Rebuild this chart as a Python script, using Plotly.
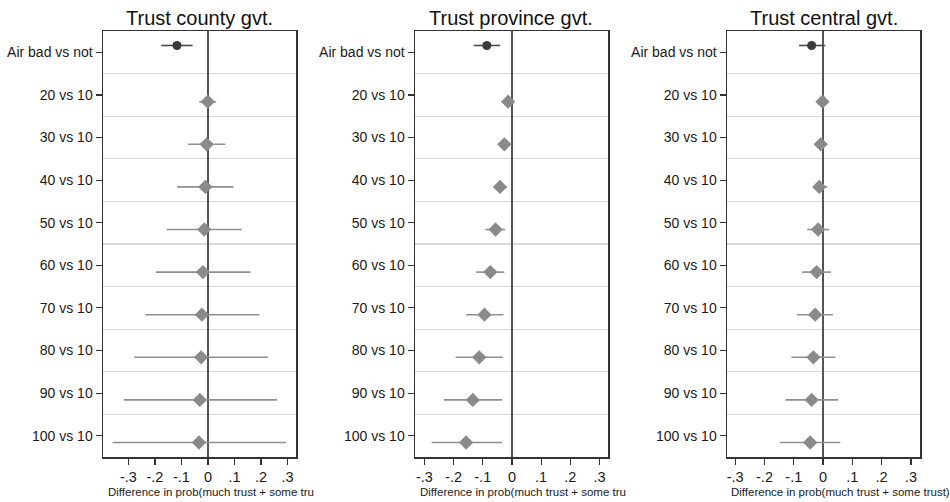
import plotly.graph_objects as go

categories = ["Air bad vs not", "20 vs 10", "30 vs 10", "40 vs 10", "50 vs 10",
              "60 vs 10", "70 vs 10", "80 vs 10", "90 vs 10", "100 vs 10"]

panel_titles = ["Trust county gvt.", "Trust province gvt.", "Trust central gvt."]
x_titles = ["Difference in prob(much trust + some tru",
            "Difference in prob(much trust + some tru",
            "Difference in prob(much trust + some trust)"]

# Trust county gvt.
county_est = [-0.117, -0.001, -0.005, -0.010, -0.014, -0.019, -0.023, -0.026, -0.031, -0.034]
county_lo = [-0.176, -0.033, -0.075, -0.116, -0.156, -0.196, -0.236, -0.278, -0.318, -0.360]
county_hi = [-0.058, 0.031, 0.065, 0.096, 0.127, 0.160, 0.194, 0.226, 0.260, 0.294]

# Trust province gvt.
province_est = [-0.086, -0.013, -0.026, -0.041, -0.056, -0.074, -0.094, -0.112, -0.134, -0.157]
province_lo = [-0.131, -0.023, -0.040, -0.063, -0.091, -0.122, -0.157, -0.193, -0.233, -0.275]
province_hi = [-0.041, -0.002, -0.013, -0.017, -0.023, -0.026, -0.029, -0.031, -0.033, -0.034]

# Trust central gvt.
central_est = [-0.039, -0.002, -0.008, -0.013, -0.017, -0.022, -0.027, -0.033, -0.039, -0.044]
central_lo = [-0.082, -0.009, -0.017, -0.032, -0.054, -0.072, -0.089, -0.108, -0.128, -0.147]
central_hi = [0.008, 0.006, 0.002, 0.015, 0.021, 0.027, 0.034, 0.042, 0.051, 0.059]

x_ticks = [-0.3, -0.2, -0.1, 0, 0.1, 0.2, 0.3]
x_tick_labels = ["-.3", "-.2", "-.1", "0", ".1", ".2", ".3"]

panels = [(county_est, county_lo, county_hi),
          (province_est, province_lo, province_hi),
          (central_est, central_lo, central_hi)]
x_ranges = [[-0.396, 0.332], [-0.332, 0.329], [-0.328, 0.331]]

W, H = 950, 502


def fx(p):
    return p / W


def fy(p):
    return 1 - p / H


px_domains = [(103, 296), (415, 608), (727, 920)]
y_dom = [fy(457), fy(31)]
title_left_px = [106, 418, 729]

FONT = "Liberation Sans, Arial, sans-serif"
DOT = "#3a3a3a"
DOT_LINE = "#4a4a4a"
DIA = "#8a8a8a"
DIA_LINE = "#8e8e8e"
OFFSET = 0.16

fig = go.Figure()
pos = list(range(1, len(categories) + 1))

for i, (est, lo, hi) in enumerate(panels):
    xa = "x" if i == 0 else f"x{i+1}"
    ya = "y" if i == 0 else f"y{i+1}"
    # first category: air quality (dark dot), shifted up
    fig.add_trace(go.Scatter(
        x=est[:1], y=[p - OFFSET for p in pos[:1]], mode="markers",
        marker=dict(symbol="circle", size=9, color=DOT),
        error_x=dict(type="data", symmetric=False,
                     array=[h - e for h, e in zip(hi[:1], est[:1])],
                     arrayminus=[e - l for e, l in zip(est[:1], lo[:1])],
                     width=0, thickness=1.6, color=DOT_LINE),
        xaxis=xa, yaxis=ya, showlegend=False))
    # remaining categories: diamonds, shifted down
    fig.add_trace(go.Scatter(
        x=est[1:], y=[p + OFFSET for p in pos[1:]], mode="markers",
        marker=dict(symbol="diamond", size=11, color=DIA),
        error_x=dict(type="data", symmetric=False,
                     array=[h - e for h, e in zip(hi[1:], est[1:])],
                     arrayminus=[e - l for e, l in zip(est[1:], lo[1:])],
                     width=0, thickness=1.6, color=DIA_LINE),
        xaxis=xa, yaxis=ya, showlegend=False))

layout = dict(
    width=W, height=H,
    margin=dict(l=0, r=0, t=0, b=0),
    paper_bgcolor="white", plot_bgcolor="white",
    font=dict(family=FONT, color="#1a1a1a", size=14),
)

annotations = []
for i in range(3):
    sfx = "" if i == 0 else str(i + 1)
    l, r = px_domains[i]
    layout["xaxis" + sfx] = dict(
        domain=[fx(l), fx(r)], range=x_ranges[i], anchor="y" + sfx,
        tickvals=x_ticks, ticktext=x_tick_labels, ticks="outside", ticklen=6,
        tickcolor="#333", tickwidth=1.2, showgrid=False,
        zeroline=True, zerolinecolor="#555", zerolinewidth=1.6,
        showline=True, mirror=True, linecolor="#333", linewidth=1.5,
        tickfont=dict(size=14.5, family=FONT, color="#1a1a1a"), fixedrange=True,
    )
    layout["yaxis" + sfx] = dict(
        domain=y_dom, range=[len(categories) + 0.5, 0.5], anchor="x" + sfx,
        tickvals=pos, ticktext=categories, ticks="outside", ticklen=6,
        tickcolor="#333", tickwidth=1.2, showgrid=False, zeroline=False,
        showline=True, mirror=True, linecolor="#333", linewidth=1.5,
        minor=dict(tick0=0.5, dtick=1, showgrid=True, gridcolor="#d9d9d9",
                   gridwidth=1.2, ticks=""),
        tickfont=dict(size=14, family=FONT, color="#1a1a1a"), fixedrange=True,
    )
    annotations.append(dict(
        text=panel_titles[i], xref="paper", yref="paper",
        x=fx((l + r) / 2), y=fy(18), xanchor="center", yanchor="middle",
        showarrow=False, font=dict(size=20, family=FONT, color="#111")))
    annotations.append(dict(
        text=x_titles[i], xref="paper", yref="paper",
        x=fx(title_left_px[i]), y=fy(491.5), xanchor="left", yanchor="middle",
        showarrow=False, font=dict(size=11.5, family=FONT, color="#1a1a1a")))

layout["annotations"] = annotations
fig.update_layout(**layout)
fig.write_html("out.html", config={"displayModeBar": False, "staticPlot": True},
               post_script="document.body.style.margin='0px';")
